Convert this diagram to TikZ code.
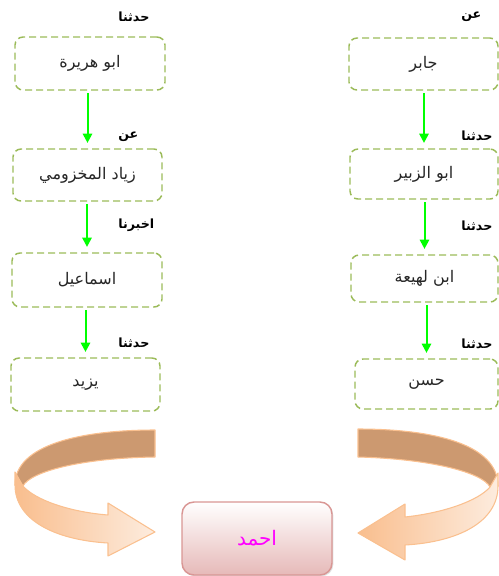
\documentclass[tikz,border=0pt]{standalone}
\usepackage{fontspec}
\newfontfamily\arabicfont[Script=Arabic]{DejaVu Sans}
\TeXXeTstate=1
\usetikzlibrary{arrows.meta,shadows}
\definecolor{boxgreen}{RGB}{155,187,89}
\definecolor{arrgreen}{RGB}{0,255,0}
\definecolor{bandtan}{RGB}{204,153,112}
\definecolor{bandedge}{RGB}{250,192,143}
\definecolor{peachdark}{RGB}{249,190,142}
\definecolor{peachlight}{RGB}{253,236,222}
\definecolor{pinkedge}{RGB}{217,150,148}
\definecolor{pinkfill}{RGB}{230,185,184}
\newcommand{\artxt}[1]{{\arabicfont\beginR #1\endR}}
\begin{document}
\begin{tikzpicture}[x=0.75pt,y=-0.75pt,
  namebox/.style={draw=boxgreen, line width=1.1pt, dash pattern=on 5.25pt off 3pt,
    rounded corners=6pt, inner sep=0pt, font=\arabicfont\fontsize{12}{14}\selectfont, text=black!85},
  lbl/.style={anchor=west, inner sep=0pt, font=\arabicfont\bfseries\fontsize{9.5}{11}\selectfont},
  garrow/.style={draw=arrgreen, line width=1.5pt, -{Triangle[length=7pt,width=7pt]},
    shorten <=2pt, shorten >=4pt},
  band/.style={fill=bandtan, draw=bandedge, line width=0.8pt, line join=round},
  front/.style={left color=peachdark, right color=peachlight, draw=bandedge, line width=0.8pt, line join=round}]
\useasboundingbox (0,0) rectangle (499,576);

% left column
\node[namebox, minimum width=112.5pt, minimum height=39.75pt] (L1) at (90,63.5) {\artxt{ابو هريرة}};
\node[namebox, minimum width=111.75pt, minimum height=39pt] (L2) at (87.5,175) {\artxt{زياد المخزومي}};
\node[namebox, minimum width=112.5pt, minimum height=40.5pt] (L3) at (87,280) {\artxt{اسماعيل}};
\node[namebox, minimum width=111.75pt, minimum height=39.75pt] (L4) at (85.5,384.5) {\artxt{يزيد}};

% right column
\node[namebox, minimum width=111.75pt, minimum height=39pt] (R1) at (423.5,64) {\artxt{جابر}};
\node[namebox, minimum width=111pt, minimum height=37.5pt] (R2) at (424,174) {\artxt{ابو الزبير}};
\node[namebox, minimum width=110.25pt, minimum height=35.25pt] (R3) at (424.5,278.5) {\artxt{ابن لهيعة}};
\node[namebox, minimum width=107.25pt, minimum height=37.5pt] (R4) at (426.5,384) {\artxt{حسن}};

% labels
\node[lbl] (la1) at (118,17) {\artxt{حدثنا}};
\node[lbl] (la2) at (118,137) {\artxt{عن}};
\node[lbl] (la3) at (118,225) {\artxt{اخبرنا}};
\node[lbl] (la4) at (118,343) {\artxt{حدثنا}};
\node[lbl] (ra1) at (461,17) {\artxt{عن}};
\node[lbl] (ra2) at (461,136) {\artxt{حدثنا}};
\node[lbl] (ra3) at (461,226) {\artxt{حدثنا}};
\node[lbl] (ra4) at (461,344) {\artxt{حدثنا}};

% green arrows
\draw[garrow] (L1.south -| L2.north) -- (L2.north);
\draw[garrow] (L2.south -| L3.north) -- (L3.north);
\draw[garrow] (L3.south -| L4.north) -- (L4.north);
\draw[garrow] (R1.south -| R2.north) -- (R2.north);
\draw[garrow] (R2.south -| R3.north) -- (R3.north);
\draw[garrow] (R3.south -| R4.north) -- (R4.north);

% final box
\node[draw=pinkedge, line width=1.1pt, rounded corners=9pt, top color=white, bottom color=pinkfill,
  drop shadow={opacity=0.25, shadow xshift=1pt, shadow yshift=-1pt},
  minimum width=112.5pt, minimum height=54.75pt, inner sep=0pt,
  font=\arabicfont\fontsize{15}{17}\selectfont, text={rgb,255:red,255;green,0;blue,255}]
  (A) at (257,538.5) {\artxt{احمد}};

% left curved arrow
\path[band] (155,430) .. controls (80,430) and (15,445) .. (15,485)
  -- (23,486) .. controls (30,472) and (80,458) .. (155,457) -- cycle;
\path[front] (15,472) -- (23,486) .. controls (35,500) and (70,512) .. (108,515)
  -- (108,503) -- (155,532) -- (108,556) -- (108,543)
  .. controls (55,540) and (15,520) .. (15,485) -- cycle;

% right curved arrow
\path[band] (358,429) .. controls (433,429) and (498,444) .. (498,486)
  -- (490,487) .. controls (483,473) and (433,459) .. (358,457) -- cycle;
\path[front] (498,473) -- (490,487) .. controls (478,501) and (443,513) .. (405,517)
  -- (405,504) -- (358,533) -- (405,560) -- (405,545)
  .. controls (458,542) and (498,522) .. (498,486) -- cycle;
\end{tikzpicture}
\end{document}
